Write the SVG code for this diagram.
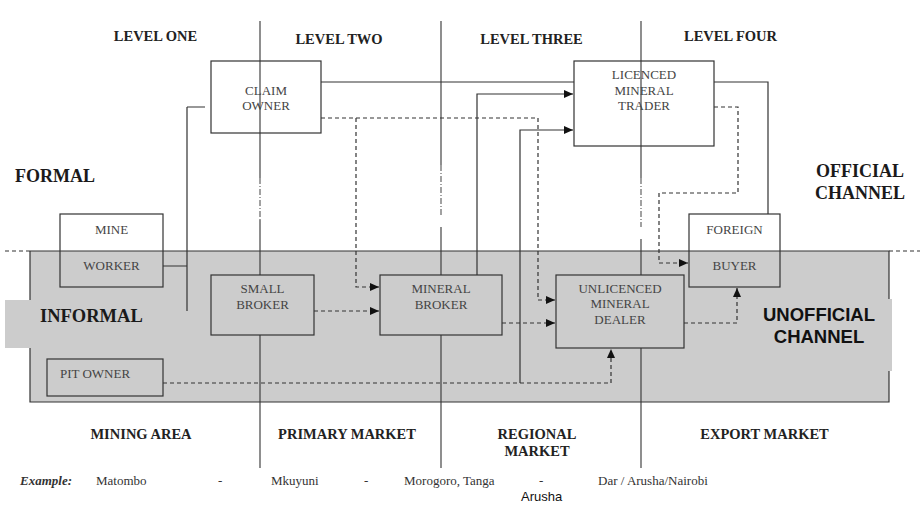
<svg xmlns="http://www.w3.org/2000/svg" width="920" height="506" viewBox="0 0 920 506">
<style>
.hdr{font-family:"Liberation Serif","Times New Roman",serif;font-weight:bold;font-size:14.5px;fill:#222;text-anchor:middle}
.big{font-family:"Liberation Serif","Times New Roman",serif;font-weight:bold;font-size:18px;fill:#1a1a1a}
.bt{font-family:"Liberation Serif","Times New Roman",serif;font-size:13px;fill:#444;text-anchor:middle}
.ex{font-family:"Liberation Serif","Times New Roman",serif;font-size:13px;fill:#333}
.box{fill:none;stroke:#333;stroke-width:1.2}
.gbox{fill:#cccccc;stroke:#333;stroke-width:1.2}
.ln{fill:none;stroke:#333;stroke-width:1.2}
.dl{fill:none;stroke:#333;stroke-width:1.2;stroke-dasharray:4,3}
.vl{fill:none;stroke:#333;stroke-width:1.1}
.vd{fill:none;stroke:#555;stroke-width:1.1;stroke-dasharray:6,2,1,2}
</style>
<defs>
<marker id="ah" markerUnits="userSpaceOnUse" markerWidth="10" markerHeight="10" refX="9" refY="4" orient="auto">
<path d="M0,0 L9,4 L0,8 Z" fill="#111"/>
</marker>
</defs>
<rect width="920" height="506" fill="#fff"/>

<g id="region-informal">
<rect x="30" y="251" width="859" height="151" fill="#cccccc"/>
<rect x="5" y="300" width="26" height="48" fill="#cccccc"/>
<rect x="888" y="299" width="4" height="72" fill="#cccccc"/>
<path class="ln" d="M30,251 H889 V299 M889,371 V402 H30 V348 M30,300 V251"/>
<path class="dl" d="M5,251 H30 M889,251 H920"/>
</g>

<g id="level-lines">
<path class="vl" d="M260,21 V178 M260,220 V468"/>
<path class="vd" d="M260,178 V220"/>
<path class="vl" d="M441,21 V165 M441,227 V468"/>
<path class="vd" d="M441,165 V215"/>
<path class="vl" d="M641,21 V178 M641,239 V468"/>
<path class="vd" d="M641,178 V227"/>
</g>

<g id="connectors">
<path class="ln" d="M163,266 H187 M187,107 V311 M187,107 H205"/>
<path class="ln" d="M321,82 H574"/>
<path class="ln" d="M714,82 H768 V214"/>
<path class="ln" d="M477,275 V94 H573" marker-end="url(#ah)"/>
<path class="ln" d="M520,383 V130 H573" marker-end="url(#ah)"/>
<path class="dl" d="M321,118 H538 V300 H555" marker-end="url(#ah)"/>
<path class="dl" d="M356,118 V287 H379" marker-end="url(#ah)"/>
<path class="dl" d="M314,311 H379" marker-end="url(#ah)"/>
<path class="dl" d="M502,323 H555" marker-end="url(#ah)"/>
<path class="dl" d="M684,323 H737 V288" marker-end="url(#ah)"/>
<path class="dl" d="M714,107 H738 V193 H659 V263 H688" marker-end="url(#ah)"/>
<path class="dl" d="M163,383 H611 V349" marker-end="url(#ah)"/>
</g>

<g id="claim-owner">
<rect class="box" x="211" y="61" width="110" height="72"/>
<text class="bt" x="266" y="95">CLAIM</text>
<text class="bt" x="266" y="110">OWNER</text>
</g>
<g id="licenced-mineral-trader">
<rect class="box" x="574" y="61" width="140" height="85"/>
<text class="bt" x="644" y="79">LICENCED</text>
<text class="bt" x="644" y="95">MINERAL</text>
<text class="bt" x="644" y="110">TRADER</text>
</g>
<g id="mine-worker">
<rect class="box" x="60" y="214" width="103" height="73"/>
<text class="bt" x="111.5" y="234">MINE</text>
<text class="bt" x="111.5" y="270">WORKER</text>
</g>
<g id="foreign-buyer">
<rect class="box" x="689" y="214" width="91" height="73"/>
<text class="bt" x="734.5" y="234">FOREIGN</text>
<text class="bt" x="734.5" y="270">BUYER</text>
</g>
<g id="small-broker">
<rect class="gbox" x="211" y="275" width="103" height="60"/>
<text class="bt" x="262.5" y="293">SMALL</text>
<text class="bt" x="262.5" y="309">BROKER</text>
</g>
<g id="mineral-broker">
<rect class="gbox" x="380" y="275" width="122" height="60"/>
<text class="bt" x="441" y="293">MINERAL</text>
<text class="bt" x="441" y="309">BROKER</text>
</g>
<g id="unlicenced-mineral-dealer">
<rect class="gbox" x="556" y="275" width="128" height="73"/>
<text class="bt" x="620" y="293">UNLICENCED</text>
<text class="bt" x="620" y="308">MINERAL</text>
<text class="bt" x="620" y="324">DEALER</text>
</g>
<g id="pit-owner">
<rect class="box" x="47" y="359" width="116" height="37"/>
<text class="bt" x="95" y="378">PIT OWNER</text>
</g>

<g id="labels">
<text class="hdr" x="155.5" y="41">LEVEL ONE</text>
<text class="hdr" x="339" y="44">LEVEL TWO</text>
<text class="hdr" x="531.5" y="44">LEVEL THREE</text>
<text class="hdr" x="730.5" y="41">LEVEL FOUR</text>
<text class="big" x="15" y="182">FORMAL</text>
<text class="big" x="860" y="177" text-anchor="middle">OFFICIAL</text>
<text class="big" x="860" y="199" text-anchor="middle">CHANNEL</text>
<text class="big" x="40" y="322" style="font-size:18.5px">INFORMAL</text>
<text x="819" y="321" text-anchor="middle" style="font-family:'Liberation Sans',Arial,sans-serif;font-weight:bold;font-size:18.5px;fill:#111">UNOFFICIAL</text>
<text x="819" y="343" text-anchor="middle" style="font-family:'Liberation Sans',Arial,sans-serif;font-weight:bold;font-size:18.5px;fill:#111">CHANNEL</text>
<text class="hdr" x="141" y="439">MINING AREA</text>
<text class="hdr" x="347" y="439">PRIMARY MARKET</text>
<text class="hdr" x="537" y="439">REGIONAL</text>
<text class="hdr" x="537" y="456">MARKET</text>
<text class="hdr" x="764.5" y="439">EXPORT MARKET</text>
<text class="ex" x="20" y="485" style="font-weight:bold;font-style:italic">Example:</text>
<text class="ex" x="96" y="485">Matombo</text>
<text class="ex" x="218" y="485">-</text>
<text class="ex" x="271" y="485">Mkuyuni</text>
<text class="ex" x="364" y="485">-</text>
<text class="ex" x="404" y="485">Morogoro, Tanga</text>
<text class="ex" x="539" y="485">-</text>
<text class="ex" x="598" y="485">Dar / Arusha/Nairobi</text>
<text x="521" y="501" style="font-family:'Liberation Sans',Arial,sans-serif;font-size:13px;fill:#111">Arusha</text>
</g>
</svg>
